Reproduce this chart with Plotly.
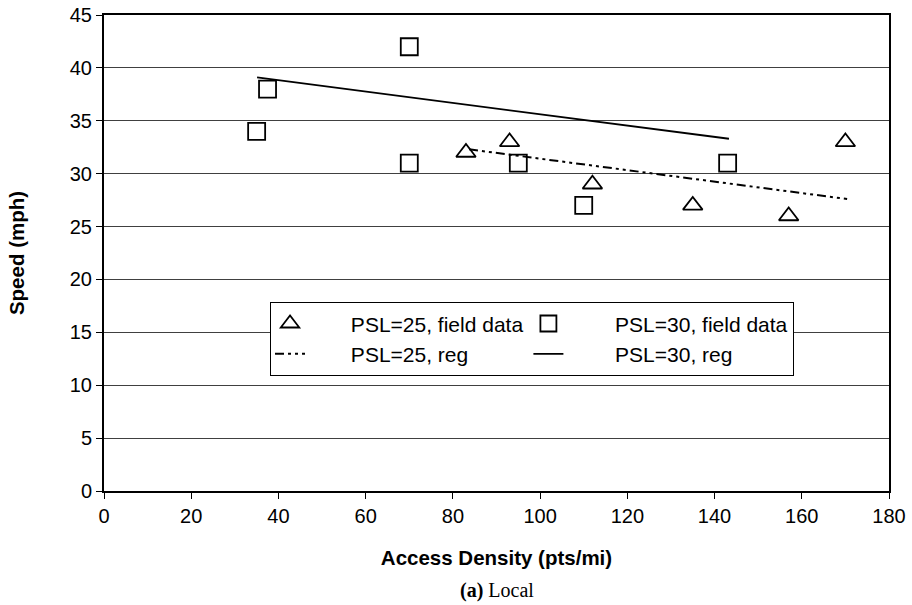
import plotly.graph_objects as go

# field data, PSL = 25
psl25_x = [83, 93, 112, 135, 157, 170]
psl25_y = [32, 33, 29, 27, 26, 33]

# field data, PSL = 30
psl30_x = [35, 37.5, 70, 70, 95, 110, 143]
psl30_y = [34, 38, 42, 31, 31, 27, 31]

# regression lines (end points)
reg25_x = [83.7, 170.4]
reg25_y = [32.3, 27.6]
reg30_x = [35.1, 143.3]
reg30_y = [39.1, 33.3]

x_ticks = list(range(0, 181, 20))
y_ticks = list(range(0, 46, 5))

FONT = "Liberation Sans, Arial, sans-serif"
PAD = "\u00a0" * 7  # pushes legend text away from the symbol, like the original
PAD2 = "\u00a0" * 8

fig = go.Figure()
fig.add_trace(go.Scatter(
    x=psl25_x, y=psl25_y, mode="markers", name=PAD + "PSL=25, field data",
    legendgroup="g25",
    marker=dict(symbol="triangle-up-open", size=17, color="black",
                line=dict(width=1.8, color="black")),
))
fig.add_trace(go.Scatter(
    x=reg25_x, y=reg25_y, mode="lines", name=PAD + "PSL=25, reg",
    legendgroup="g25",
    line=dict(color="black", width=2, dash="9px,4px,3px,4px,3px,4px"),
))
fig.add_trace(go.Scatter(
    x=psl30_x, y=psl30_y, mode="markers", name=PAD2 + "PSL=30, field data",
    legendgroup="g30",
    marker=dict(symbol="square-open", size=17, color="black",
                line=dict(width=1.8, color="black")),
))
fig.add_trace(go.Scatter(
    x=reg30_x, y=reg30_y, mode="lines", name=PAD2 + "PSL=30, reg",
    legendgroup="g30",
    line=dict(color="black", width=1.8),
))

fig.update_layout(
    width=912, height=605,
    margin=dict(l=104, r=23, t=15, b=114),
    paper_bgcolor="white", plot_bgcolor="white",
    font=dict(family=FONT, size=20, color="black"),
    showlegend=True,
    legend=dict(
        orientation="h", x=0.2115, y=0.397, xanchor="left", yanchor="top",
        bordercolor="black", borderwidth=1.3, bgcolor="white",
        tracegroupgap=23, font=dict(size=21),
    ),
    xaxis=dict(
        range=[0, 180], tickvals=x_ticks, showgrid=False, zeroline=False,
        showline=True, linecolor="black", linewidth=2, mirror=True,
        ticks="outside", ticklen=6, tickcolor="black", automargin=False,
        tickfont=dict(size=20), ticklabeloverflow="allow",
        title=dict(text="<b>Access Density (pts/mi)</b>", font=dict(size=20.5), standoff=25),
    ),
    yaxis=dict(
        range=[0, 45], tickvals=y_ticks, showgrid=True, gridcolor="#404040",
        gridwidth=1, zeroline=False,
        showline=True, linecolor="black", linewidth=2, mirror=True,
        ticks="outside", ticklen=6, tickcolor="black", automargin=False,
        tickfont=dict(size=20), ticklabeloverflow="allow",
        title=dict(text="<b>Speed (mph)</b>", font=dict(size=20.5), standoff=40),
    ),
)

fig.add_annotation(
    text="<b>(a)</b> Local", x=0.5, y=-0.210, xref="paper", yref="paper",
    xanchor="center", yanchor="middle", showarrow=False,
    font=dict(family="Liberation Serif, Times New Roman, serif", size=20),
)

# drop the browser's default 8px body margin so the figure fills the window
fig.write_html("out.html", config={"displayModeBar": False},
               post_script="document.body.style.margin='0';")
